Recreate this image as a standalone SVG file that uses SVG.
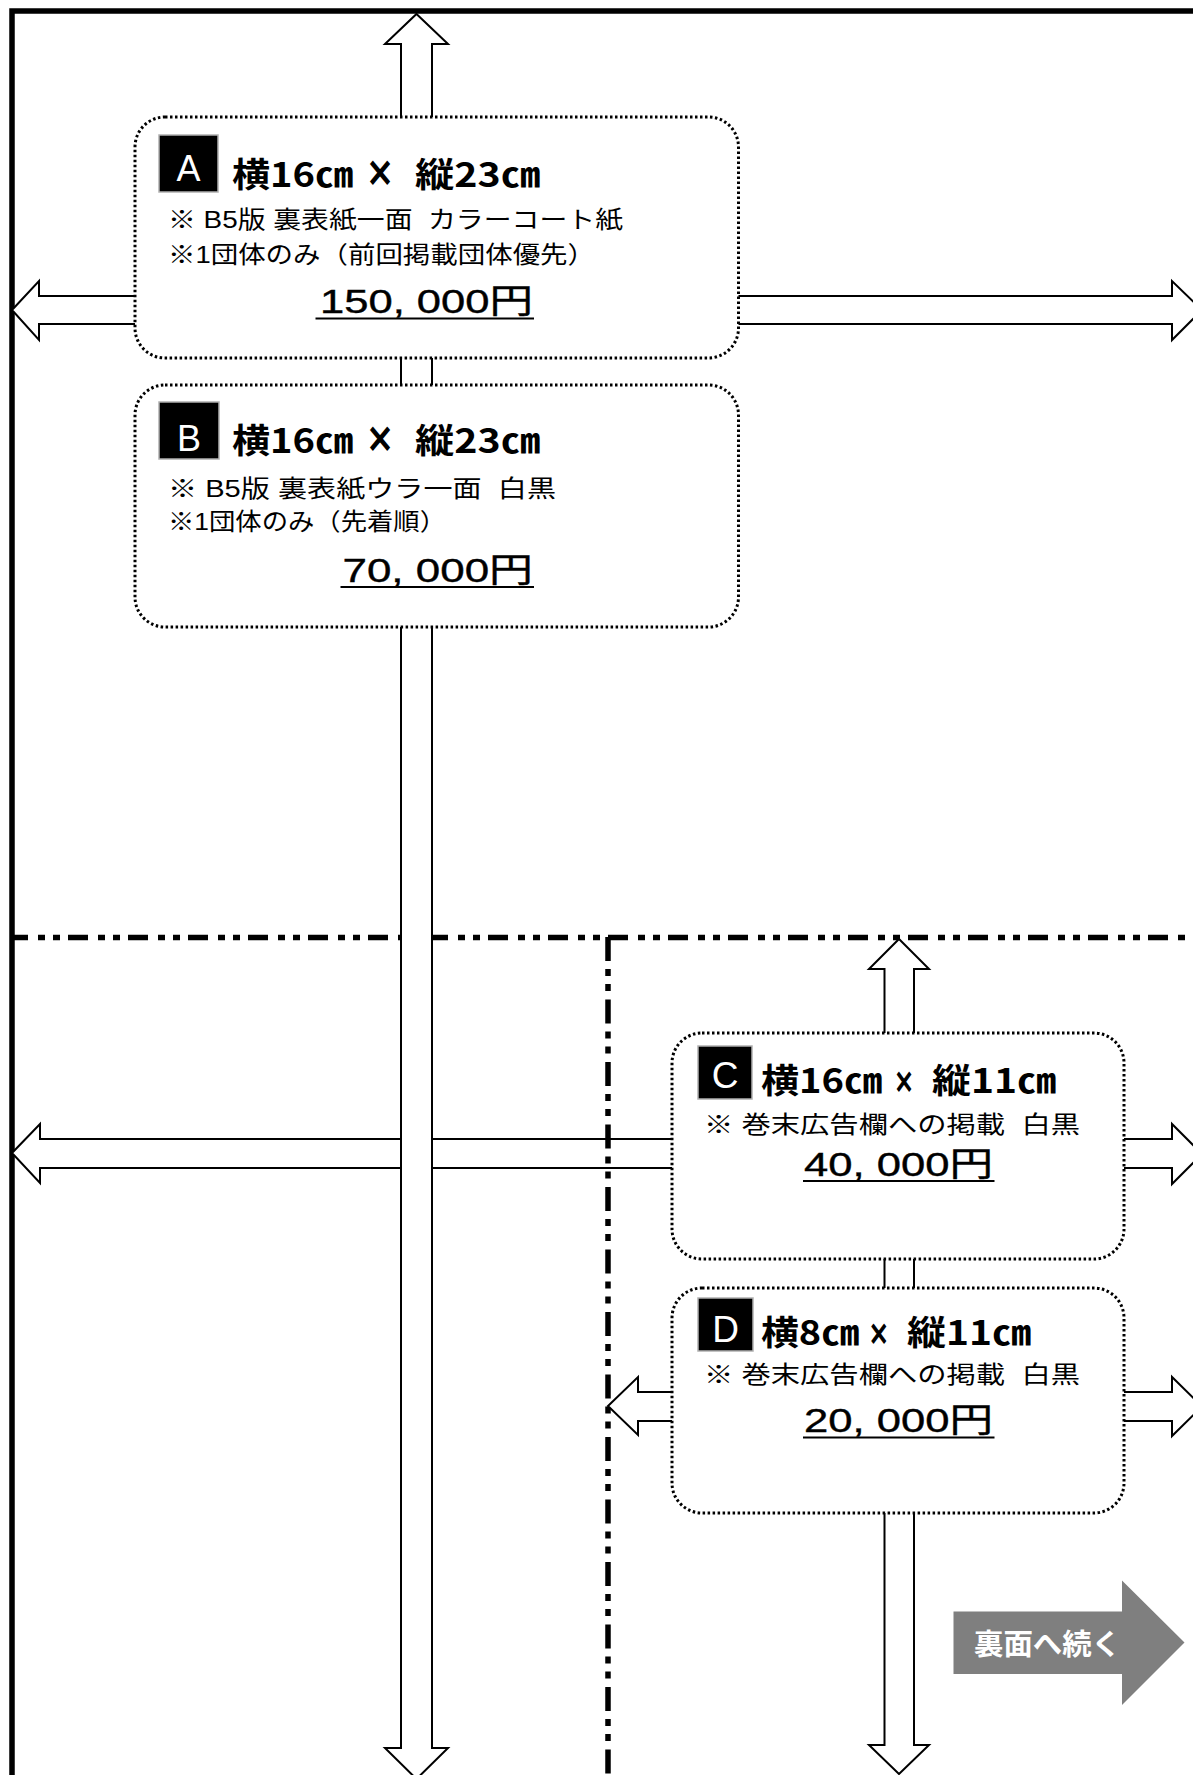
<svg xmlns="http://www.w3.org/2000/svg" width="1193" height="1775" viewBox="0 0 1193 1775">
<style>
.arrow{fill:#fff;stroke:#000;stroke-width:2;stroke-linejoin:miter}
.box{fill:#fff;stroke:#000;stroke-width:3;stroke-dasharray:2.5 2.5}
.lbl{fill:#000;stroke:#b0b0b0;stroke-width:1.5}
.lt{font-family:"Liberation Sans",Arial,sans-serif;fill:#fff;text-anchor:middle}
.title{font-family:"Noto Sans CJK JP","Liberation Sans",sans-serif;font-size:34px;font-weight:bold;fill:#000}
.x{font-family:"Noto Sans CJK JP",sans-serif;font-weight:bold;fill:#000;stroke:#000;stroke-width:1.5}
.sub{font-family:"Liberation Sans","Noto Sans CJK JP",sans-serif;font-size:24px;fill:#000;white-space:pre}
.price{font-family:"Liberation Sans","Noto Sans CJK JP",sans-serif;font-size:34px;fill:#000;stroke:#000;stroke-width:0.4}
.ul{stroke:#000;stroke-width:2.2}
.dd{fill:none;stroke:#000;stroke-width:5.5}
</style>
<rect x="0" y="0" width="1193" height="1775" fill="#fff"/>
<g id="frame">
<rect x="12" y="11" width="1300" height="1900" fill="none" stroke="#000" stroke-width="5.5"/>
</g>
<g id="connectors">
<polygon class="arrow" points="12,1153 40,1124 40,1139 1172,1139 1172,1124 1202,1154 1172,1184 1172,1168 40,1168 40,1183"/>
<path class="dd" d="M608 937 V1775" stroke-dasharray="24 8 7 8 7 8.5"/>
<path class="dd" d="M12 937.5 H1193" stroke-dasharray="20 10 7 8 7 8" stroke-dashoffset="4"/>
<polygon class="arrow" points="416.5,14 448,44 432,44 432,1748 448,1748 416.5,1779 385,1748 401,1748 401,44 385,44"/>
<polygon class="arrow" points="12,310 39,281 39,296 1172,296 1172,281 1202,310 1172,340 1172,324 39,324 39,340"/>
<polygon class="arrow" points="899,939 929,969 914,969 914,1745 929,1745 899,1774 869,1745 884.5,1745 884.5,969 869,969"/>
<polygon class="arrow" points="608,1406 638,1377 638,1392 1172,1392 1172,1377 1202,1406.5 1172,1436 1172,1421 638,1421 638,1435"/>
</g>
<g id="nodeA">
<rect class="box" x="135" y="117" width="603.5" height="241" rx="30" ry="30"/>
<rect class="lbl" x="159" y="135" width="59" height="57"/>
<text class="lt" x="188.5" y="181" font-size="36">A</text>
<text class="title" x="232" y="187" textLength="121" lengthAdjust="spacingAndGlyphs">横16㎝</text>
<text class="x" x="366" y="186" font-size="34" textLength="28" lengthAdjust="spacingAndGlyphs">×</text>
<text class="title" x="415" y="187" textLength="125" lengthAdjust="spacingAndGlyphs">縦23㎝</text>
<text class="sub" x="168" y="228" textLength="455" lengthAdjust="spacingAndGlyphs" xml:space="preserve">※ B5版 裏表紙一面  カラーコート紙</text>
<text class="sub" x="168" y="263" textLength="427" lengthAdjust="spacingAndGlyphs">※1団体のみ（前回掲載団体優先）</text>
<text class="price" x="320" y="313" textLength="213" lengthAdjust="spacingAndGlyphs">150, 000円</text>
<line class="ul" x1="315.5" y1="318.5" x2="534" y2="318.5"/>
</g>
<g id="nodeB">
<rect class="box" x="135" y="385" width="603.5" height="242" rx="30" ry="30"/>
<rect class="lbl" x="159" y="402" width="60" height="57"/>
<text class="lt" x="189" y="451" font-size="36">B</text>
<text class="title" x="232" y="453" textLength="121" lengthAdjust="spacingAndGlyphs">横16㎝</text>
<text class="x" x="366" y="452" font-size="34" textLength="28" lengthAdjust="spacingAndGlyphs">×</text>
<text class="title" x="415" y="453" textLength="125" lengthAdjust="spacingAndGlyphs">縦23㎝</text>
<text class="sub" x="168" y="497" textLength="388" lengthAdjust="spacingAndGlyphs" xml:space="preserve">※ B5版 裏表紙ウラ一面  白黒</text>
<text class="sub" x="168" y="530" textLength="278" lengthAdjust="spacingAndGlyphs">※1団体のみ（先着順）</text>
<text class="price" x="342.5" y="582" textLength="190.5" lengthAdjust="spacingAndGlyphs">70, 000円</text>
<line class="ul" x1="340.5" y1="587" x2="534" y2="587"/>
</g>
<g id="nodeC">
<rect class="box" x="672" y="1033" width="452" height="226" rx="30" ry="30"/>
<rect class="lbl" x="698" y="1046" width="54" height="53"/>
<text class="lt" x="725" y="1088" font-size="37">C</text>
<text class="title" x="761" y="1093" textLength="121" lengthAdjust="spacingAndGlyphs">横16㎝</text>
<text class="x" x="894" y="1093" font-size="28" textLength="20" lengthAdjust="spacingAndGlyphs">×</text>
<text class="title" x="932" y="1093" textLength="124" lengthAdjust="spacingAndGlyphs">縦11㎝</text>
<text class="sub" x="704" y="1133" textLength="376" lengthAdjust="spacingAndGlyphs" xml:space="preserve">※ 巻末広告欄への掲載  白黒</text>
<text class="price" x="804" y="1176" textLength="189" lengthAdjust="spacingAndGlyphs">40, 000円</text>
<line class="ul" x1="803" y1="1181" x2="994.5" y2="1181"/>
</g>
<g id="nodeD">
<rect class="box" x="672" y="1288" width="452" height="225" rx="30" ry="30"/>
<rect class="lbl" x="698" y="1298" width="55" height="53"/>
<text class="lt" x="725.5" y="1341.5" font-size="37">D</text>
<text class="title" x="761" y="1345" textLength="98" lengthAdjust="spacingAndGlyphs">横8㎝</text>
<text class="x" x="868.5" y="1345" font-size="28" textLength="20.5" lengthAdjust="spacingAndGlyphs">×</text>
<text class="title" x="907" y="1345" textLength="124" lengthAdjust="spacingAndGlyphs">縦11㎝</text>
<text class="sub" x="704" y="1383" textLength="376" lengthAdjust="spacingAndGlyphs" xml:space="preserve">※ 巻末広告欄への掲載  白黒</text>
<text class="price" x="804" y="1432" textLength="189" lengthAdjust="spacingAndGlyphs">20, 000円</text>
<line class="ul" x1="803" y1="1437.5" x2="994.5" y2="1437.5"/>
</g>
<g id="nodeNext">
<polygon points="953.5,1611.5 1122,1611.5 1122,1580.5 1184.5,1642.5 1122,1705 1122,1674 953.5,1674" fill="#7f7f7f"/>
<text x="974" y="1655" font-family="Noto Sans CJK JP,sans-serif" font-size="29" font-weight="bold" fill="#fff" textLength="147" lengthAdjust="spacingAndGlyphs">裏面へ続く</text>
</g>
</svg>
